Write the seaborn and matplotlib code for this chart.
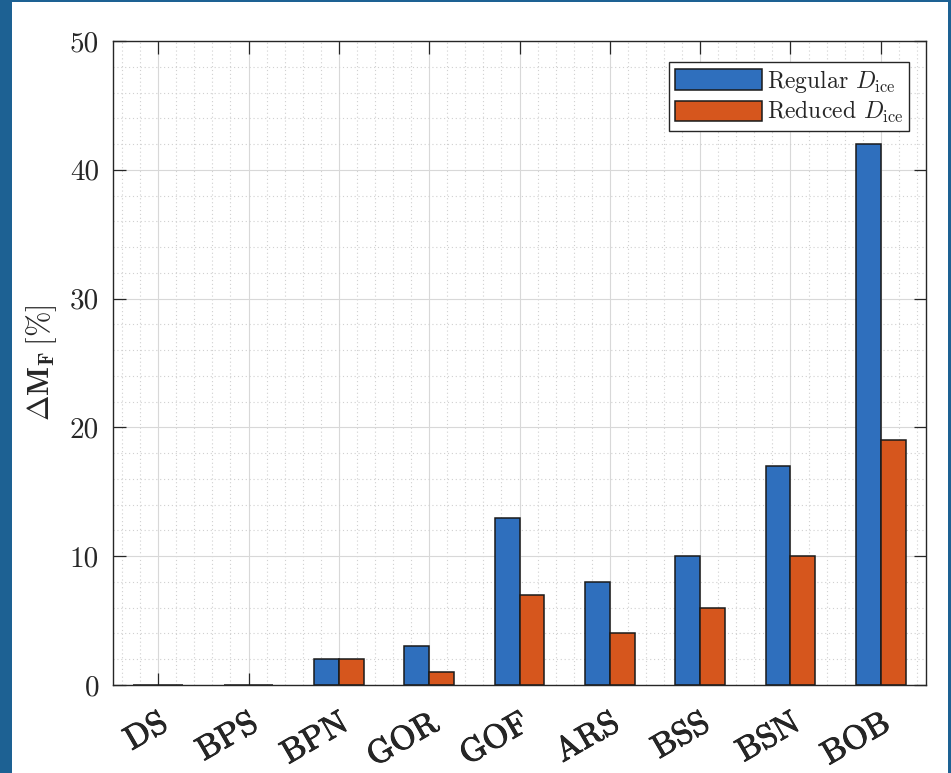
import matplotlib
matplotlib.use("Agg")
import matplotlib.pyplot as plt
import matplotlib.patheffects as pe
from matplotlib.patches import Rectangle
from matplotlib.ticker import MultipleLocator
import seaborn as sns
import pandas as pd

# Fuel mass increase per configuration, for two ice-thickness cases
configs = ["DS", "BPS", "BPN", "GOR", "GOF", "ARS", "BSS", "BSN", "BOB"]
regular_dice = [0, 0, 2, 3, 13, 8, 10, 17, 42]
reduced_dice = [0, 0, 2, 1, 7, 4, 6, 10, 19]
series_names = [r"Regular $D_{\rm ice}$", r"Reduced $D_{\rm ice}$"]
y_ticks = [0, 10, 20, 30, 40, 50]

sns.set_theme(style="white")
plt.rcParams["font.family"] = ["cmr10", "DejaVu Serif"]
plt.rcParams["mathtext.fontset"] = "cm"
plt.rcParams["axes.unicode_minus"] = False
plt.rcParams["axes.formatter.use_mathtext"] = True

df = pd.DataFrame({
    "config": configs * 2,
    "value": regular_dice + reduced_dice,
    "case": [series_names[0]] * len(configs) + [series_names[1]] * len(configs),
})

fig = plt.figure(figsize=(9.51, 7.73), dpi=100)
fig.patch.set_facecolor("#1d6193")
panel = Rectangle((12 / 951, 0), 936 / 951, 1 - 2 / 773,
                  transform=fig.transFigure, facecolor="white",
                  edgecolor="none", zorder=-10)
fig.patches.append(panel)

ax = fig.add_axes([113 / 951, 1 - 685 / 773, (926 - 113) / 951, (685 - 41) / 773])
ax.set_facecolor("white")

sns.barplot(data=df, x="config", y="value", hue="case", ax=ax,
            palette=["#2f6fbd", "#d6561d"], width=0.55,
            edgecolor="#1a1a1a", linewidth=1.1, saturation=1, errorbar=None)

ax.set_xlim(-0.5, len(configs) - 0.5)
ax.set_ylim(0, 50)
ax.set_yticks(y_ticks)
ax.set_yticklabels([str(t) for t in y_ticks], fontsize=21)
ax.set_xticks(range(len(configs)))
ax.set_xticklabels(configs, rotation=30, ha="right", va="top",
                   rotation_mode="anchor", fontsize=24, family="cmr10")
for lbl in ax.get_xticklabels():
    lbl.set_path_effects([pe.withStroke(linewidth=0.7, foreground="#1a1a1a")])
ax.set_xlabel("")
ax.set_ylabel(r"$\mathbf{\Delta M_F}\,$[%]", fontsize=22, labelpad=8)

ax.xaxis.set_minor_locator(MultipleLocator(0.2))
ax.yaxis.set_minor_locator(MultipleLocator(2))
ax.set_axisbelow(True)
ax.grid(which="major", color="#d8d8d8", linewidth=0.8, linestyle="-")
ax.grid(which="minor", color="#d0d0d0", linewidth=0.8, linestyle=(0, (1, 2.5)))

ax.tick_params(which="major", direction="in", length=9, width=0.9,
               top=True, right=True, bottom=True, left=True,
               color="#262626", pad=10)
ax.tick_params(axis="x", which="major", pad=17)
ax.tick_params(which="minor", length=0)
for s in ax.spines.values():
    s.set_color("#262626")
    s.set_linewidth(1.0)
    s.set_visible(True)

leg = ax.legend(loc="upper right", bbox_to_anchor=(0.9795, 0.968),
                fontsize=17, handlelength=3.7, handleheight=0.95,
                handletextpad=0.2, borderpad=0.25, labelspacing=0.2,
                borderaxespad=0, fancybox=False, framealpha=1,
                edgecolor="#262626")
leg.get_frame().set_linewidth(1.0)
leg.set_title(None)

fig.savefig("out.png", dpi=100, facecolor=fig.get_facecolor())
